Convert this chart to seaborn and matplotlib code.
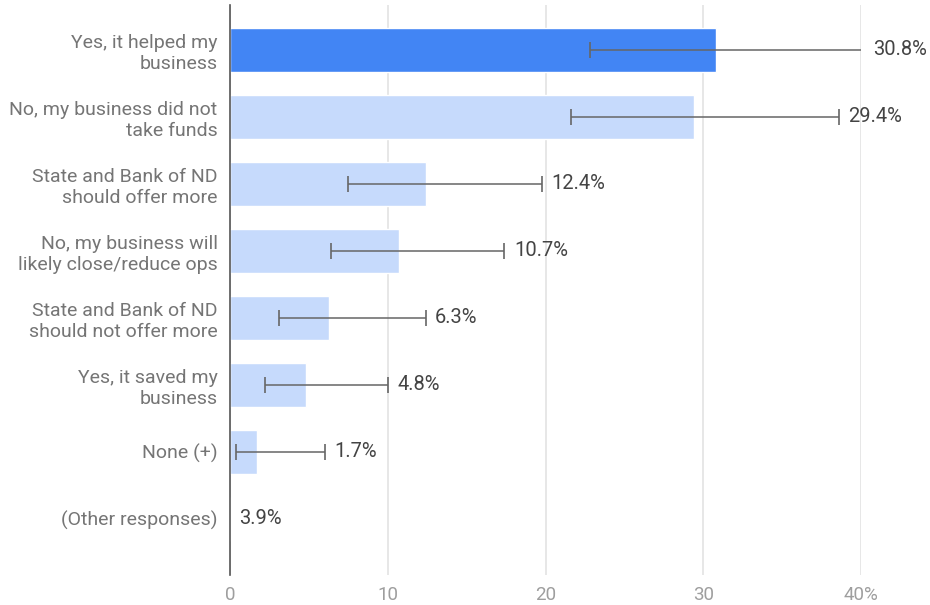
import matplotlib
matplotlib.use("Agg")
import matplotlib.pyplot as plt
import numpy as np
import pandas as pd
import seaborn as sns

# responses, shown share (%) and interval ends
categories = [
    "Yes, it helped my\nbusiness",
    "No, my business did not\ntake funds",
    "State and Bank of ND\nshould offer more",
    "No, my business will\nlikely close/reduce ops",
    "State and Bank of ND\nshould not offer more",
    "Yes, it saved my\nbusiness",
    "None (+)",
    "(Other responses)",
]
shares = [30.8, 29.4, 12.4, 10.7, 6.3, 4.8, 1.7, 3.9]
bar_lengths = [30.8, 29.4, 12.4, 10.7, 6.3, 4.8, 1.7, 0.0]
ci_low = [22.8, 21.6, 7.5, 6.4, 3.1, 2.2, 0.4, np.nan]
ci_high = [40.2, 38.6, 19.8, 17.4, 12.4, 10.0, 6.0, np.nan]
highlighted = [True, False, False, False, False, False, False, False]
x_ticks = [0, 10, 20, 30, 40]
x_tick_labels = ["0", "10", "20", "30", "40%"]

df = pd.DataFrame({
    "response": categories,
    "length": bar_lengths,
    "share": shares,
    "low": ci_low,
    "high": ci_high,
    "hl": ["top" if h else "rest" for h in highlighted],
})

sns.set_style("white")
plt.rcParams["font.family"] = ["Roboto", "DejaVu Sans"]

fig = plt.figure(figsize=(9.3, 6.05), dpi=100)
ax = fig.add_axes([230 / 930, 1 - 575 / 605, 631 / 930, 570 / 605])

sns.barplot(
    data=df, x="length", y="response", hue="hl",
    palette={"top": "#4285F4", "rest": "#C6DAFC"}, saturation=1,
    dodge=False, width=0.66, legend=False, ax=ax, zorder=2,
)

ypos = np.arange(len(df))
ok = df["low"].notna().values
mid = (df["low"] + df["high"]) / 2
half = (df["high"] - df["low"]) / 2
ax.errorbar(
    mid[ok], ypos[ok], xerr=half[ok], fmt="none",
    ecolor="#666666", elinewidth=1.1, capsize=5.5, capthick=1.2, zorder=3,
)

for i, row in df.iterrows():
    end = row["high"] if not np.isnan(row["high"]) else row["length"]
    ax.text(end + 0.6, i, f"{row['share']:.1f}%", va="center", ha="left",
            fontsize=14.5, color="#444444", clip_on=False)

ax.set_xlim(0, 40)
ax.set_ylim(7.84, -0.67)
ax.set_xticks(x_ticks)
ax.set_xticklabels(x_tick_labels, fontsize=13.5, color="#9e9e9e")
ax.tick_params(axis="y", labelsize=14, labelcolor="#757575", length=0, pad=9)
ax.tick_params(axis="x", length=0, pad=8)
for lab in ax.get_yticklabels():
    lab.set_horizontalalignment("right")
ax.xaxis.grid(True, color="#e3e3e3", linewidth=1.2, zorder=0)
ax.set_axisbelow(True)
ax.set_xlabel("")
ax.set_ylabel("")
for side in ["top", "right", "bottom"]:
    ax.spines[side].set_visible(False)
ax.spines["left"].set_color("#555555")
ax.spines["left"].set_linewidth(1.2)
ax.spines["left"].set_zorder(4)

fig.savefig("out.png", dpi=100, facecolor="white")
